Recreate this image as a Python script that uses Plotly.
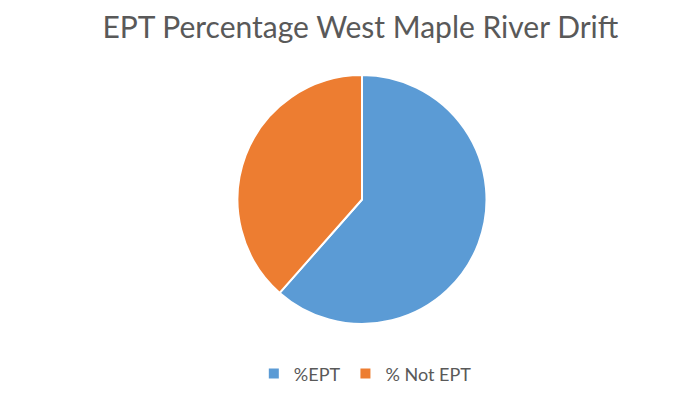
import plotly.graph_objects as go

# EPT share of drift samples, West Maple River
labels = ["%EPT", "% Not EPT"]
values = [61.5, 38.5]
colors = ["#5B9BD5", "#ED7D31"]

fig = go.Figure(
    go.Pie(
        labels=labels,
        values=values,
        sort=False,
        direction="clockwise",
        rotation=0,
        textinfo="none",
        hoverinfo="label+percent",
        marker=dict(colors=colors, line=dict(color="white", width=2)),
        domain=dict(x=[0.0, 1.0], y=[0.0, 1.0]),
    )
)

fig.update_layout(
    width=693,
    height=407,
    margin=dict(l=31, r=0, t=75, b=83),
    paper_bgcolor="white",
    plot_bgcolor="white",
    font=dict(family="Lato, sans-serif", color="#595959"),
    title=dict(
        text="EPT Percentage West Maple River Drift",
        x=0.52,
        xanchor="center",
        y=0.933,
        yanchor="middle",
        font=dict(size=30, color="#595959"),
    ),
    legend=dict(
        orientation="h",
        x=0.505,
        xanchor="center",
        y=-0.2,
        yanchor="middle",
        font=dict(size=18, color="#595959"),
        itemwidth=30,
    ),
)

fig.write_html("out.html")
